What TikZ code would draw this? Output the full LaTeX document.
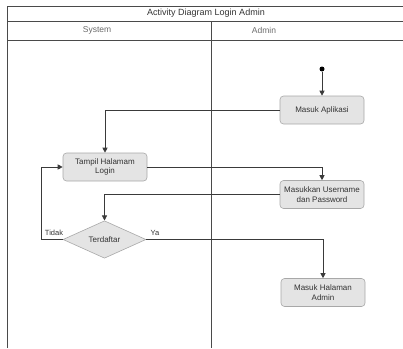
\documentclass[tikz,border=0pt]{standalone}
\usepackage{fontspec}
\setmainfont{Liberation Sans}
\usetikzlibrary{arrows.meta,shapes.geometric}
\definecolor{linec}{HTML}{3A3A3A}
\definecolor{framec}{HTML}{4A4A4A}
\definecolor{boxfill}{HTML}{E4E4E4}
\definecolor{boxdraw}{HTML}{A8A8A8}
\definecolor{txt}{HTML}{333333}
\definecolor{hdrtxt}{HTML}{6A6A6A}
\begin{document}
\begin{tikzpicture}[x=1pt,y=-1pt,
  act/.style={draw=boxdraw, fill=boxfill, rounded corners=3.5pt, minimum width=84pt, minimum height=28pt,
    align=center, font=\fontsize{8}{9.6}\selectfont, text=txt, inner sep=1pt, line width=0.6pt},
  dec/.style={diamond, draw=boxdraw, fill=boxfill, minimum width=83pt, minimum height=35pt,
    inner sep=0pt, font=\fontsize{8}{9.6}\selectfont, text=txt, line width=0.6pt},
  flow/.style={draw=linec, line width=0.7pt, -{Triangle[length=5pt,width=5pt]}},
  frame/.style={draw=framec, line width=1pt},
  lbl/.style={font=\fontsize{7.5}{9}\selectfont, text=txt, inner sep=0pt},
  hdr/.style={font=\fontsize{8.5}{10}\selectfont, text=hdrtxt, inner sep=0pt},
  ttl/.style={font=\fontsize{9}{10}\selectfont, text=txt, inner sep=0pt},
  startdot/.style={circle, fill=black, inner sep=0pt, minimum size=5pt}
]
\useasboundingbox (0,0) rectangle (403,348);
% frame
\draw[frame] (7,348) -- (7,6) -- (403,6);
\draw[frame] (7,21) -- (403,21);
\draw[frame] (7,40) -- (403,40);
\draw[frame] (211,21) -- (211,348);
\node[ttl] (title) at (206,13) {Activity Diagram Login Admin};
\node[hdr] (hsys) at (97,30.5) {System};
\node[hdr] (hadm) at (264,30.5) {Admin};
% nodes
\node[startdot] (start) at (322,69) {};
\node[act] (ma) at (322,110) {Masuk Aplikasi};
\node[act] (th) at (105,167) {Tampil Halamam\\Login};
\node[act] (mu) at (322,194.5) {Masukkan Username\\dan Password};
\node[dec] (dc) at (104.5,239.5) {Terdaftar};
\node[act] (mh) at (323,292.5) {Masuk Halaman\\Admin};
\coordinate (lp) at (41,239.5);
\node[lbl] (tidak) at (54,232.5) {Tidak};
\node[lbl] (ya) at (155,232.5) {Ya};
% connectors
\draw[flow] (start) -- (ma);
\draw[flow] (ma.west) -| (th.north);
\draw[flow] (th.east) -| (mu.north);
\draw[flow] (mu.west) -| (dc.north);
\draw[flow] (dc.west) -- (lp) |- (th.west);
\draw[flow] (dc.east) -| (mh.north);
\end{tikzpicture}
\end{document}
